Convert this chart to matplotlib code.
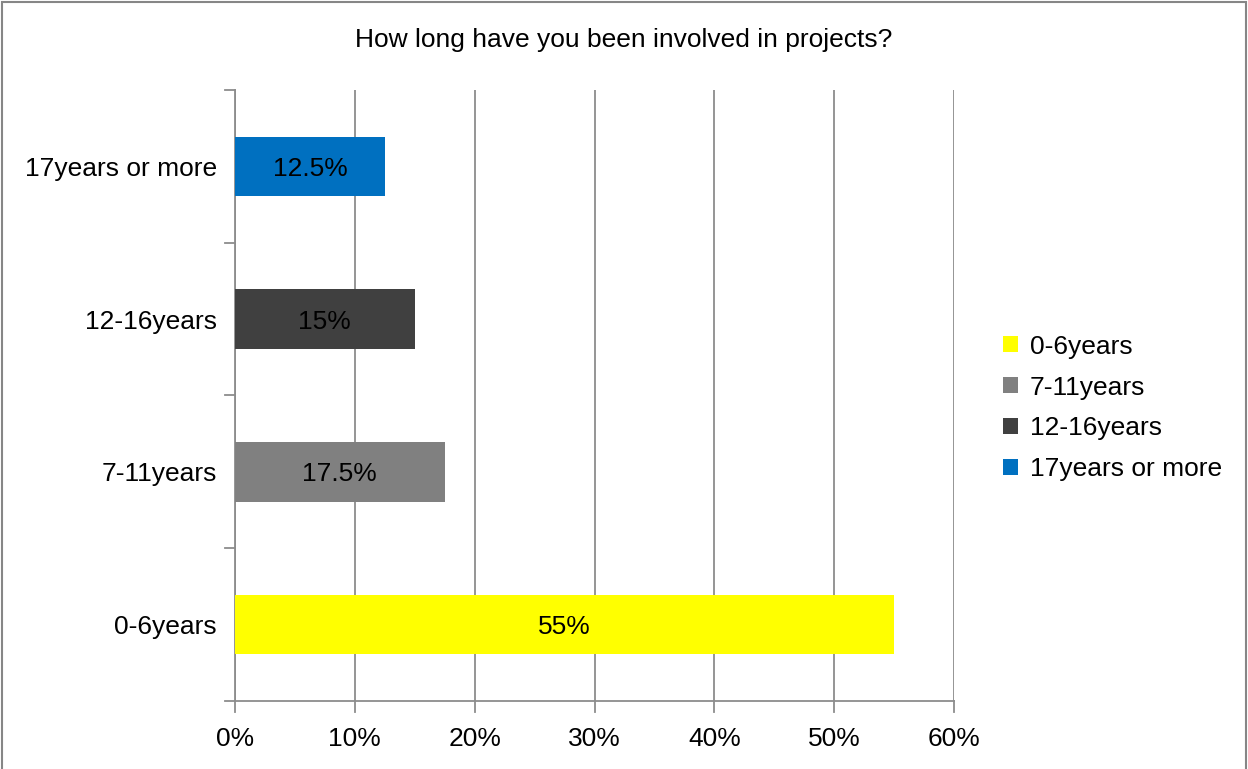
import matplotlib
matplotlib.use("Agg")
import matplotlib.pyplot as plt
from matplotlib.patches import Rectangle

plt.rcParams['font.family'] = ['Liberation Sans', 'DejaVu Sans']

categories = ["0-6years", "7-11years", "12-16years", "17years or more"]
values = [55, 17.5, 15, 12.5]
value_labels = ["55%", "17.5%", "15%", "12.5%"]
colors = ["#FFFF00", "#808080", "#404040", "#0070C0"]
x_ticks = [0, 10, 20, 30, 40, 50, 60]
x_tick_labels = ["0%", "10%", "20%", "30%", "40%", "50%", "60%"]
title = "How long have you been involved in projects?"

FS = 19

fig = plt.figure(figsize=(12.48, 7.69), dpi=100)
ax = fig.add_axes([235 / 1248, 1 - 701 / 769, (954 - 235) / 1248, (701 - 90) / 769])

grid_color = "#8C8C8C"
ypos = list(range(len(categories)))
for y, v, c, cat, lab in zip(ypos, values, colors, categories, value_labels):
    ax.barh(y, v, height=0.39, color=c, label=cat, zorder=3)
    ax.text(v / 2, y, lab, ha="center", va="center_baseline", fontsize=FS, color="black", zorder=4)

ax.set_xlim(0, 60)
ax.set_ylim(-0.5, len(categories) - 0.5)
ax.set_xticks(x_ticks)
ax.set_xticklabels(x_tick_labels, fontsize=FS)
ax.set_yticks(ypos)
ax.set_yticklabels(categories, fontsize=FS)
ax.tick_params(axis="y", length=0, pad=13)
ax.tick_params(axis="x", length=0, pad=19)

# category boundary ticks on the left
for b in [i - 0.5 for i in range(len(categories) + 1)]:
    ax.plot([-0.85, 0], [b, b], color=grid_color, lw=1.3, clip_on=False, zorder=2)
# value ticks below the axis
for t in x_ticks:
    ax.plot([t, t], [-0.5, -0.57], color=grid_color, lw=1.3, clip_on=False, zorder=2)

ax.grid(axis="x", color=grid_color, lw=1.3, zorder=0)
ax.grid(axis="y", visible=False)
for s in ["top", "right"]:
    ax.spines[s].set_visible(False)
for s in ["left", "bottom"]:
    ax.spines[s].set_color(grid_color)
    ax.spines[s].set_linewidth(1.3)

fig.text(0.5, 1 - 40 / 769, title, ha="center", va="center", fontsize=FS)

leg = ax.legend(loc="center left", bbox_to_anchor=(1003 / 1248, 1 - 408 / 769), bbox_transform=fig.transFigure,
                frameon=False, fontsize=FS, handlelength=0.57, handleheight=0.57,
                handletextpad=0.45, labelspacing=0.64, borderpad=0, borderaxespad=0)

fig.patches.append(Rectangle((2 / 1248, -0.05), 1 - 4 / 1248, 1.05 - 2 / 769, transform=fig.transFigure,
                             fill=False, edgecolor="#868686", lw=1.5))

fig.savefig("out.png", dpi=100)
